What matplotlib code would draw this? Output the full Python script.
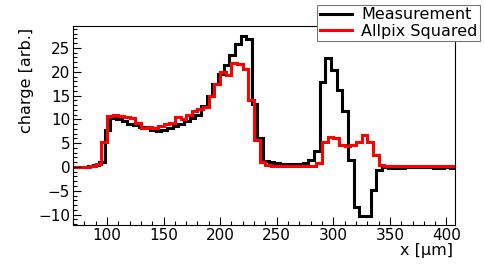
import numpy as np
import matplotlib.pyplot as plt
from matplotlib.ticker import MultipleLocator

# Bin edges (5 um bins); the two histograms are offset by 2 um
edges_meas = np.arange(68, 409, 5)
edges_sim = np.arange(70, 411, 5)

# Measurement (black), one value per bin starting at 68 um
measurement = [
    0.0, 0.0, 0.0, 0.3, 0.5, 1.1, 7.7, 10.3, 10.0, 9.6,
    9.1, 8.8, 8.4, 8.1, 7.8, 7.6, 7.8, 8.2, 8.6, 9.1,
    9.6, 10.2, 11.0, 12.8, 15.0, 17.5, 19.5, 21.5, 23.5, 25.8,
    27.5, 26.8, 13.3, 6.0, 1.3, 1.1, 0.8, 0.7, 0.6, 0.6,
    0.7, 0.8, 1.4, 3.3, 17.9, 22.8, 20.3, 16.1, 11.8, 1.4,
    -8.4, -10.4, -10.4, -4.8, -0.7, -0.1, -0.3, -0.3, -0.2, -0.1,
    -0.1, 0.0, 0.0, 0.0, -0.3, -0.2, -0.1, -0.2,
]

# Allpix Squared (red), one value per bin starting at 70 um
allpix = [
    0.0, 0.0, 0.0, 0.1, 0.7, 5.3, 10.8, 10.9, 10.8, 10.6,
    10.2, 9.2, 8.2, 8.5, 8.1, 8.6, 9.0, 9.3, 10.4, 10.1,
    11.0, 11.8, 12.2, 12.6, 15.0, 17.5, 20.0, 19.4, 21.8, 21.6,
    20.6, 14.0, 5.6, 1.0, 0.4, 0.2, 0.15, 0.15, 0.15, 0.15,
    0.15, 0.15, 0.2, 0.9, 5.3, 6.3, 6.0, 4.7, 4.3, 4.6,
    5.3, 6.8, 5.3, 2.5, 0.4, 0.2, 0.2, 0.2, 0.1, 0.1,
    0.1, 0.1, 0.1, 0.2, 0.2, 0.2, 0.3, 0.2,
]

plt.rcParams['font.family'] = ['DejaVu Sans']

fig = plt.figure(figsize=(4.85, 2.66), dpi=100)
ax = fig.add_axes([0.1505, 0.154, 0.7876, 0.748])

ax.stairs(measurement, edges_meas, color='black', lw=2.2, baseline=None,
          label='Measurement')
ax.stairs(allpix, edges_sim, color='red', lw=2.2, baseline=None,
          label='Allpix Squared')

ax.set_xlim(70, 407.5)
ax.set_ylim(-12.2, 29.6)
ax.xaxis.set_major_locator(MultipleLocator(50))
ax.xaxis.set_minor_locator(MultipleLocator(10))
ax.yaxis.set_major_locator(MultipleLocator(5))
ax.yaxis.set_minor_locator(MultipleLocator(1))
ax.tick_params(which='both', direction='in', top=False, right=False,
               labelsize=11, width=0.8)
ax.tick_params(which='major', length=5.5)
ax.tick_params(which='minor', length=3)
ax.tick_params(axis='x', pad=2)
ax.tick_params(axis='y', pad=2)
for s in ax.spines.values():
    s.set_linewidth(0.8)

fig.text(0.054, 0.895, 'charge [arb.]', rotation=90, ha='center', va='top',
         fontsize=11.5)
fig.text(0.934, 0.058, 'x [μm]', ha='right', va='center', fontsize=11.5)

leg = ax.legend(loc='upper right', bbox_to_anchor=(0.990, 0.981),
                bbox_transform=fig.transFigure, borderaxespad=0,
                fancybox=False, edgecolor='#777777', framealpha=1,
                fontsize=11.5, handlelength=2.0, labelspacing=0.1,
                borderpad=0.15, handletextpad=0.6)
leg.get_frame().set_linewidth(0.8)

fig.savefig('out.png', dpi=100)
